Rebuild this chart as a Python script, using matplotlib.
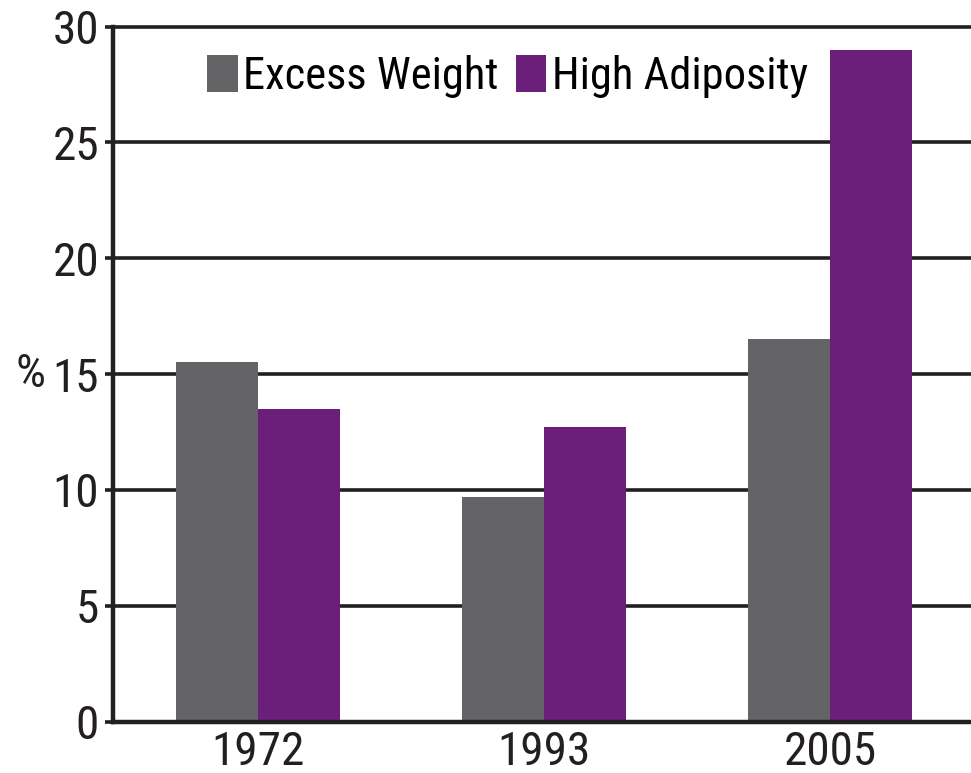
import matplotlib
matplotlib.use('Agg')
import matplotlib.pyplot as plt
import numpy as np
from matplotlib.patches import Patch

# Data
years = ['1972', '1993', '2005']
excess_weight = [15.5, 9.7, 16.5]
high_adiposity = [13.5, 12.7, 29.0]
series_names = ['Excess Weight', 'High Adiposity']
yticks = [0, 5, 10, 15, 20, 25, 30]

gray = '#646466'
purple = '#6c1f7a'
ink = '#231f20'

plt.rcParams['font.family'] = ['Roboto Condensed', 'DejaVu Sans']

fig = plt.figure(figsize=(9.71, 7.73), dpi=100)
ax = fig.add_axes([113 / 971, 1 - 721.5 / 773, 858 / 971, 695 / 773])

x = np.arange(len(years))
w = 0.287
ax.bar(x - w / 2, excess_weight, w, color=gray, zorder=2)
ax.bar(x + w / 2, high_adiposity, w, color=purple, zorder=2)

ax.set_xlim(-0.507, 2.493)
ax.set_ylim(0, 30)
ax.set_yticks(yticks)
ax.set_xticks(x)
ax.set_xticklabels(years)

# horizontal grid lines
for t in yticks[1:]:
    ax.axhline(t, color=ink, lw=2.6, zorder=1, clip_on=False)

for s in ['top', 'right']:
    ax.spines[s].set_visible(False)
ax.spines['left'].set_linewidth(3.2)
ax.spines['left'].set_color(ink)
ax.spines['bottom'].set_linewidth(3.2)
ax.spines['bottom'].set_color(ink)
ax.spines['bottom'].set_zorder(3)

ax.tick_params(axis='y', length=6, width=2.6, color=ink, pad=4, labelsize=34, labelcolor=ink)
ax.tick_params(axis='x', length=0, pad=6, labelsize=34, labelcolor=ink)

ax.set_ylabel('%', rotation=0, fontsize=34, color=ink, va='center', ha='center')
ax.yaxis.set_label_coords(-0.096, 0.5)

handles = [Patch(facecolor=gray), Patch(facecolor=purple)]
ax.legend(handles, series_names, loc='upper center', bbox_to_anchor=(0.46, 0.985),
          ncol=2, frameon=False, fontsize=32, handlelength=0.68, handleheight=0.9,
          handletextpad=0.13, columnspacing=0.38, borderaxespad=0)

fig.savefig('out.png', dpi=100)
